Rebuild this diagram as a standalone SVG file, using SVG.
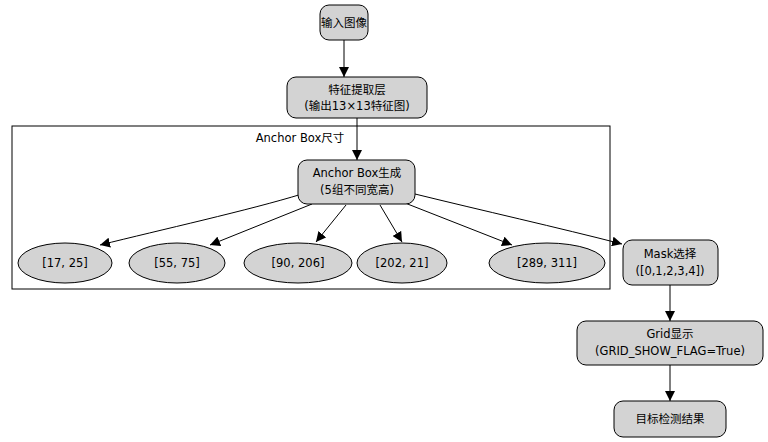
<svg xmlns="http://www.w3.org/2000/svg" width="768" height="442" viewBox="0 0 768 442">
<defs>
<style>
.n{fill:#d3d3d3;stroke:#000;stroke-width:1}
text{font-family:"DejaVu Sans","Noto Sans CJK SC",sans-serif;font-size:11.5px;text-anchor:middle;fill:#000}
.e{fill:none;stroke:#000;stroke-width:1}
</style>
<marker id="a" viewBox="0 0 10 10" refX="10" refY="5" markerWidth="10" markerHeight="10" markerUnits="userSpaceOnUse" orient="auto"><path d="M0,0L10,5L0,10z"/></marker>
</defs>
<rect width="768" height="442" fill="#fff"/>
<g id="cluster"><rect x="12" y="126" width="598" height="163" fill="none" stroke="#000"/><text x="300" y="142">Anchor Box尺寸</text></g>
<g id="edges">
<path class="e" marker-end="url(#a)" d="M344,40V77"/>
<path class="e" marker-end="url(#a)" d="M357,118V160"/>
<path class="e" marker-end="url(#a)" d="M302,194C250,210 160,230 100,245"/>
<path class="e" marker-end="url(#a)" d="M312,204L210,245"/>
<path class="e" marker-end="url(#a)" d="M346,205L316,242"/>
<path class="e" marker-end="url(#a)" d="M380,205L402,242"/>
<path class="e" marker-end="url(#a)" d="M405,203L512,245"/>
<path class="e" marker-end="url(#a)" d="M415,194C480,210 560,228 622,244"/>
<path class="e" marker-end="url(#a)" d="M670,285V321"/>
<path class="e" marker-end="url(#a)" d="M670,365V401"/>
</g>
<g id="n1"><rect class="n" x="320" y="5" width="48" height="35" rx="9"/><text x="344" y="27">输入图像</text></g>
<g id="n2"><rect class="n" x="287" y="77" width="140" height="41" rx="9"/><text x="357" y="94">特征提取层</text><text x="357" y="110">(输出13×13特征图)</text></g>
<g id="n3"><rect class="n" x="298" y="160" width="117" height="44" rx="9"/><text x="357" y="177">Anchor Box生成</text><text x="357" y="194">(5组不同宽高)</text></g>
<g id="e1"><ellipse class="n" cx="65" cy="263" rx="47" ry="20"/><text x="65" y="267">[17, 25]</text></g>
<g id="e2"><ellipse class="n" cx="177" cy="263" rx="48" ry="20"/><text x="177" y="267">[55, 75]</text></g>
<g id="e3"><ellipse class="n" cx="298" cy="263" rx="54" ry="20"/><text x="298" y="267">[90, 206]</text></g>
<g id="e4"><ellipse class="n" cx="402" cy="263" rx="45" ry="20"/><text x="402" y="267">[202, 21]</text></g>
<g id="e5"><ellipse class="n" cx="547" cy="263" rx="58" ry="20"/><text x="547" y="267">[289, 311]</text></g>
<g id="n4"><rect class="n" x="623" y="240" width="95" height="45" rx="9"/><text x="670" y="258">Mask选择</text><text x="670" y="275">([0,1,2,3,4])</text></g>
<g id="n5"><rect class="n" x="577" y="321" width="186" height="44" rx="9"/><text x="670" y="338">Grid显示</text><text x="670" y="355">(GRID_SHOW_FLAG=True)</text></g>
<g id="n6"><rect class="n" x="614" y="401" width="112" height="36" rx="9"/><text x="670" y="423">目标检测结果</text></g>
</svg>
